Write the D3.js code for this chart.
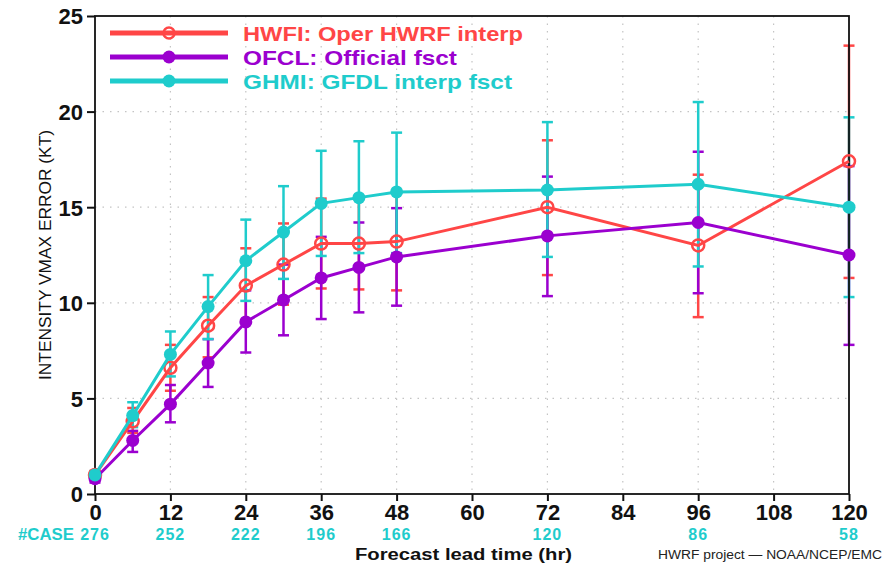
<!DOCTYPE html>
<html>
<head>
<meta charset="utf-8">
<script src="https://cdn.jsdelivr.net/npm/d3@7"></script>
<style>
  body { margin: 0; background: #fff; }
  svg { display: block; }
  text { font-family: "Liberation Sans", Arial, sans-serif; }
</style>
</head>
<body>
<div id="chart"></div>
<script>
// forecast hours
var hours = [0, 6, 12, 18, 24, 30, 36, 42, 48, 72, 96, 120];

// HWFI: Oper HWRF interp
var hwfiMean = [1.0, 3.8, 6.6, 8.8, 10.9, 12.0, 13.1, 13.1, 13.2, 15.0, 13.0, 17.4];
var hwfiLo   = [0.8, 3.2, 5.4, 7.15, 9.0, 9.9, 10.75, 10.7, 10.65, 11.45, 9.25, 11.3];
var hwfiHi   = [1.2, 4.5, 7.8, 10.3, 12.85, 14.15, 15.45, 15.5, 15.8, 18.5, 16.7, 23.45];

// OFCL: Official fsct
var ofclMean = [0.8, 2.8, 4.7, 6.85, 9.0, 10.15, 11.3, 11.85, 12.4, 13.5, 14.2, 12.5];
var ofclLo   = [0.6, 2.2, 3.75, 5.6, 7.4, 8.3, 9.15, 9.5, 9.85, 10.35, 10.5, 7.8];
var ofclHi   = [1.0, 3.3, 5.7, 8.1, 10.65, 12.0, 13.45, 14.2, 14.95, 16.6, 17.9, 17.15];

// GHMI: GFDL interp fsct
var ghmiMean = [1.0, 4.1, 7.3, 9.8, 12.2, 13.7, 15.2, 15.5, 15.8, 15.9, 16.2, 15.0];
var ghmiLo   = [0.8, 3.5, 6.15, 8.1, 10.1, 11.25, 12.45, 12.6, 12.6, 12.4, 11.9, 10.3];
var ghmiHi   = [1.2, 4.8, 8.5, 11.45, 14.35, 16.1, 17.95, 18.45, 18.9, 19.45, 20.5, 19.7];

// number of cases
var caseHours  = [0, 12, 24, 36, 48, 72, 96, 120];
var caseCounts = [276, 252, 222, 196, 166, 120, 86, 58];

var xTickVals = [0, 12, 24, 36, 48, 60, 72, 84, 96, 108, 120];
var yTickVals = [0, 5, 10, 15, 20, 25];

var width = 896, height = 566;
var pLeft = 95, pRight = 849, pTop = 16, pBottom = 494;

var red = "#ff4646", purple = "#9b00cf", cyan = "#1fcccc";

var series = [
  {name: "HWFI: Oper HWRF interp", color: red, open: true, mean: hwfiMean, lo: hwfiLo, hi: hwfiHi, tl: 280},
  {name: "OFCL: Official fsct", color: purple, open: false, mean: ofclMean, lo: ofclLo, hi: ofclHi, tl: 214},
  {name: "GHMI: GFDL interp fsct", color: cyan, open: false, mean: ghmiMean, lo: ghmiLo, hi: ghmiHi, tl: 269}
];

var x = d3.scaleLinear().domain([0, 120]).range([pLeft, pRight]);
var y = d3.scaleLinear().domain([0, 25]).range([pBottom, pTop]);

var svg = d3.select("#chart").append("svg")
  .attr("width", width)
  .attr("height", height);

// dotted grid
svg.append("g")
  .selectAll("line")
  .data(xTickVals.filter(function(d) { return d > 0 && d < 120; }))
  .enter().append("line")
  .attr("x1", function(d) { return x(d); })
  .attr("x2", function(d) { return x(d); })
  .attr("y1", pTop).attr("y2", pBottom)
  .attr("stroke", "#c4c4c4")
  .attr("stroke-width", 1.2)
  .attr("stroke-dasharray", "1.5,6");

svg.append("g")
  .selectAll("line")
  .data(yTickVals.filter(function(d) { return d > 0 && d < 25; }))
  .enter().append("line")
  .attr("y1", function(d) { return y(d); })
  .attr("y2", function(d) { return y(d); })
  .attr("x1", pLeft).attr("x2", pRight)
  .attr("stroke", "#c4c4c4")
  .attr("stroke-width", 1.2)
  .attr("stroke-dasharray", "1.5,6");

// error bars first
series.forEach(function(s) {
  var g = svg.append("g")
    .attr("stroke", s.color)
    .attr("stroke-width", 2.5);
  hours.forEach(function(h, i) {
    g.append("line")
      .attr("x1", x(h)).attr("x2", x(h))
      .attr("y1", y(s.lo[i])).attr("y2", y(s.hi[i]));
    [s.lo[i], s.hi[i]].forEach(function(v) {
      g.append("line")
        .attr("x1", x(h) - 5.5).attr("x2", x(h) + 5.5)
        .attr("y1", y(v)).attr("y2", y(v));
    });
  });
});

// frame
svg.append("rect")
  .attr("x", pLeft).attr("y", pTop)
  .attr("width", pRight - pLeft).attr("height", pBottom - pTop)
  .attr("fill", "none")
  .attr("stroke", "#111")
  .attr("stroke-width", 1.8);

// y axis
var yAxis = d3.axisLeft(y).tickValues(yTickVals).tickSize(8).tickPadding(4);
var gy = svg.append("g").attr("transform", "translate(" + pLeft + ",0)").call(yAxis);
gy.select(".domain").remove();
gy.selectAll(".tick line").attr("stroke", "#111").attr("stroke-width", 2);
gy.selectAll(".tick text")
  .attr("fill", "#111")
  .style("font-size", "22px")
  .style("font-weight", "bold")
  .attr("dy", "0.36em");

// x axis
var xAxis = d3.axisBottom(x).tickValues(xTickVals).tickSize(7).tickPadding(3);
var gx = svg.append("g").attr("transform", "translate(0," + pBottom + ")").call(xAxis);
gx.select(".domain").remove();
gx.selectAll(".tick line").attr("stroke", "#111").attr("stroke-width", 2);
gx.selectAll(".tick text")
  .attr("fill", "#111")
  .style("font-size", "22px")
  .style("font-weight", "bold");

// lines and markers
series.forEach(function(s) {
  var pts = hours.map(function(h, i) { return [h, s.mean[i]]; });
  svg.append("path")
    .datum(pts)
    .attr("fill", "none")
    .attr("stroke", s.color)
    .attr("stroke-width", 3)
    .attr("d", d3.line().x(function(d) { return x(d[0]); }).y(function(d) { return y(d[1]); }));
  svg.append("g").selectAll("circle")
    .data(pts).enter().append("circle")
    .attr("cx", function(d) { return x(d[0]); })
    .attr("cy", function(d) { return y(d[1]); })
    .attr("r", s.open ? 6 : 6.5)
    .attr("fill", s.open ? "none" : s.color)
    .attr("stroke", s.color)
    .attr("stroke-width", s.open ? 2.5 : 0);
});

// legend
var legend = svg.append("g");
series.forEach(function(s, i) {
  var ly = 33 + i * 24;
  legend.append("line")
    .attr("x1", 110).attr("x2", 228)
    .attr("y1", ly).attr("y2", ly)
    .attr("stroke", s.color).attr("stroke-width", 5);
  legend.append("circle")
    .attr("cx", 169).attr("cy", ly).attr("r", s.open ? 5.5 : 6.5)
    .attr("fill", s.open ? "none" : s.color)
    .attr("stroke", s.color)
    .attr("stroke-width", s.open ? 2.5 : 0);
  legend.append("text")
    .attr("x", 243).attr("y", ly + 7.5)
    .attr("fill", s.color)
    .attr("textLength", s.tl)
    .attr("lengthAdjust", "spacingAndGlyphs")
    .style("font-size", "21px")
    .style("font-weight", "bold")
    .text(s.name);
});

// y label
svg.append("text")
  .attr("transform", "translate(51,255) rotate(-90)")
  .attr("text-anchor", "middle")
  .attr("fill", "#111")
  .attr("textLength", 250)
  .attr("lengthAdjust", "spacingAndGlyphs")
  .style("font-size", "17px")
  .text("INTENSITY VMAX ERROR (KT)");

// case counts
svg.append("text")
  .attr("x", 18).attr("y", 540)
  .attr("fill", cyan)
  .attr("textLength", 56)
  .attr("lengthAdjust", "spacingAndGlyphs")
  .style("font-size", "16px")
  .style("font-weight", "bold")
  .text("#CASE");

svg.append("g").selectAll("text")
  .data(caseHours).enter().append("text")
  .attr("x", function(d) { return x(d); })
  .attr("y", 540)
  .attr("text-anchor", "middle")
  .attr("fill", cyan)
  .style("font-size", "16px")
  .style("font-weight", "bold")
  .style("letter-spacing", "1px")
  .text(function(d, i) { return caseCounts[i]; });

// x label
svg.append("text")
  .attr("x", 355).attr("y", 560)
  .attr("fill", "#111")
  .attr("textLength", 217)
  .attr("lengthAdjust", "spacingAndGlyphs")
  .style("font-size", "16px")
  .style("font-weight", "bold")
  .text("Forecast lead time (hr)");

// credit
svg.append("text")
  .attr("x", 658).attr("y", 559)
  .attr("fill", "#222")
  .attr("textLength", 224)
  .attr("lengthAdjust", "spacingAndGlyphs")
  .style("font-size", "12px")
  .text("HWRF project \u2014 NOAA/NCEP/EMC");
</script>
</body>
</html>
